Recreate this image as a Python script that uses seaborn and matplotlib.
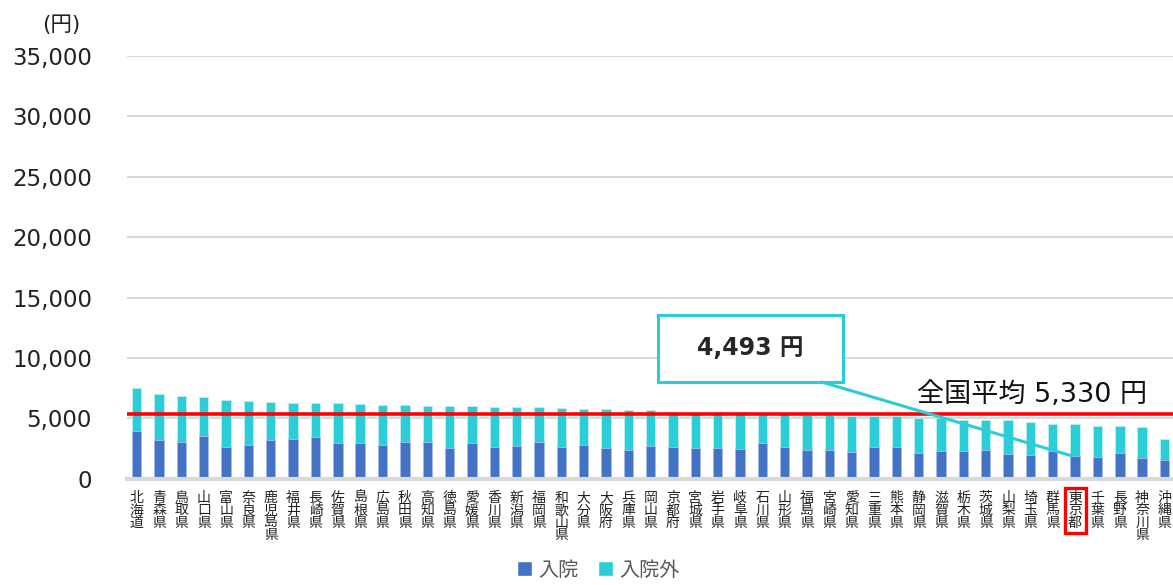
import matplotlib
matplotlib.use("Agg")
import matplotlib.pyplot as plt
from matplotlib.patches import Rectangle, Patch
import seaborn as sns
import pandas as pd

# prefecture order as shown (sorted by total)
prefs = ["北海道", "青森県", "鳥取県", "山口県", "富山県", "奈良県", "鹿児島県", "福井県",
         "長崎県", "佐賀県", "島根県", "広島県", "秋田県", "高知県", "徳島県", "愛媛県",
         "香川県", "新潟県", "福岡県", "和歌山県", "大分県", "大阪府", "兵庫県", "岡山県",
         "京都府", "宮城県", "岩手県", "岐阜県", "石川県", "山形県", "福島県", "宮崎県",
         "愛知県", "三重県", "熊本県", "静岡県", "滋賀県", "栃木県", "茨城県", "山梨県",
         "埼玉県", "群馬県", "東京都", "千葉県", "長野県", "神奈川県", "沖縄県"]
# 入院
inpatient = [3950, 3205, 3040, 3540, 2625, 2790, 3205, 3260,
             3455, 2955, 2955, 2790, 3040, 3040, 2545, 2955,
             2625, 2710, 3040, 2600, 2790, 2545, 2375, 2655,
             2625, 2515, 2545, 2460, 2985, 2600, 2375, 2375,
             2210, 2600, 2600, 2155, 2320, 2240, 2375, 2045,
             1990, 2240, 1880, 1795, 2130, 1715, 1550]
# 入院 + 入院外
total = [7520, 7020, 6830, 6745, 6525, 6415, 6355, 6300,
         6275, 6245, 6135, 6055, 6055, 6000, 6000, 5970,
         5915, 5887, 5887, 5860, 5750, 5750, 5720, 5640,
         5500, 5500, 5500, 5500, 5360, 5310, 5280, 5250,
         5200, 5200, 5180, 5000, 4975, 4890, 4890, 4810,
         4645, 4560, 4493, 4365, 4340, 4285, 3260]
national_avg = 5330
highlight = "東京都"

blue = "#4472C4"
cyan = "#2BCDD6"

df = pd.DataFrame({"pref": prefs, "in": inpatient, "total": total})

sns.set_style("white")
plt.rcParams['font.family'] = ['DejaVu Sans', 'Noto Sans CJK JP']

fig = plt.figure(figsize=(11.73, 5.85), dpi=100)
ax = fig.add_axes([0.108, 0.182, 0.892, 0.722])

sns.barplot(data=df, x="pref", y="total", color=cyan, width=0.42, ax=ax,
            saturation=1, edgecolor="#BDEFF2", linewidth=0.6)
sns.barplot(data=df, x="pref", y="in", color=blue, width=0.42, ax=ax,
            saturation=1, edgecolor="#A9BDE6", linewidth=0.6)

ax.set_ylim(0, 35000)
ax.set_xlim(-0.45, len(prefs) - 0.62)
ax.set_yticks(range(0, 35001, 5000))
ax.set_yticklabels([f"{v:,}" for v in range(0, 35001, 5000)], fontsize=16.5, color="#222222")
ax.yaxis.grid(True, color="#D9D9D9", linewidth=1.5)
ax.set_axisbelow(True)
for s in ["top", "right", "left"]:
    ax.spines[s].set_visible(False)
ax.spines["bottom"].set_color("#D9D9D9")
ax.spines["bottom"].set_linewidth(3)
ax.tick_params(axis="y", length=0, pad=25)
ax.tick_params(axis="x", length=0, pad=9)
ax.set_xlabel("")
ax.set_ylabel("")

ax.set_xticks(range(len(prefs)))
ax.set_xticklabels(["\n".join(p) for p in prefs], rotation=0, fontsize=10,
                   linespacing=0.86, va="top", color="#222222",
                   family=['Noto Sans CJK JP'])
for lab in ax.get_xticklabels():
    if lab.get_text().replace("\n", "") == highlight:
        lab.set_bbox(dict(facecolor="none", edgecolor="red", linewidth=2.4, pad=2.5))

# national average line
ax.axhline(national_avg, color="red", linewidth=2.6, zorder=5)
ax.text(45.2, national_avg + 1600, f"全国平均 {national_avg:,} 円", ha="right",
        va="center", fontsize=19.5, color="#111111")

# callout for Tokyo
ti = prefs.index(highlight)
box = Rectangle((23.31, 8000), 8.28, 5560, facecolor="white", edgecolor=cyan,
                linewidth=2.2, zorder=6)
ax.add_patch(box)
ax.text(23.31 + 4.14, 8000 + 2780, f"{total[ti]:,} 円", ha="center", va="center",
        fontsize=17, fontweight="bold", zorder=7)
ax.plot([30.65, ti - 0.15], [8000, inpatient[ti]], color=cyan, linewidth=2.2, zorder=6)

fig.text(0.052, 0.957, "(円)", ha="center", va="center", fontsize=15.5, color="#222222")

handles = [Patch(facecolor=blue), Patch(facecolor=cyan)]
fig.legend(handles, ["入院", "入院外"], loc="lower center", bbox_to_anchor=(0.51, -0.022),
           ncol=2, frameon=False, fontsize=14.5, handlelength=0.75, handleheight=0.75,
           handletextpad=0.3, columnspacing=1.0, labelcolor="#595959")

fig.savefig("out.png", dpi=100)
